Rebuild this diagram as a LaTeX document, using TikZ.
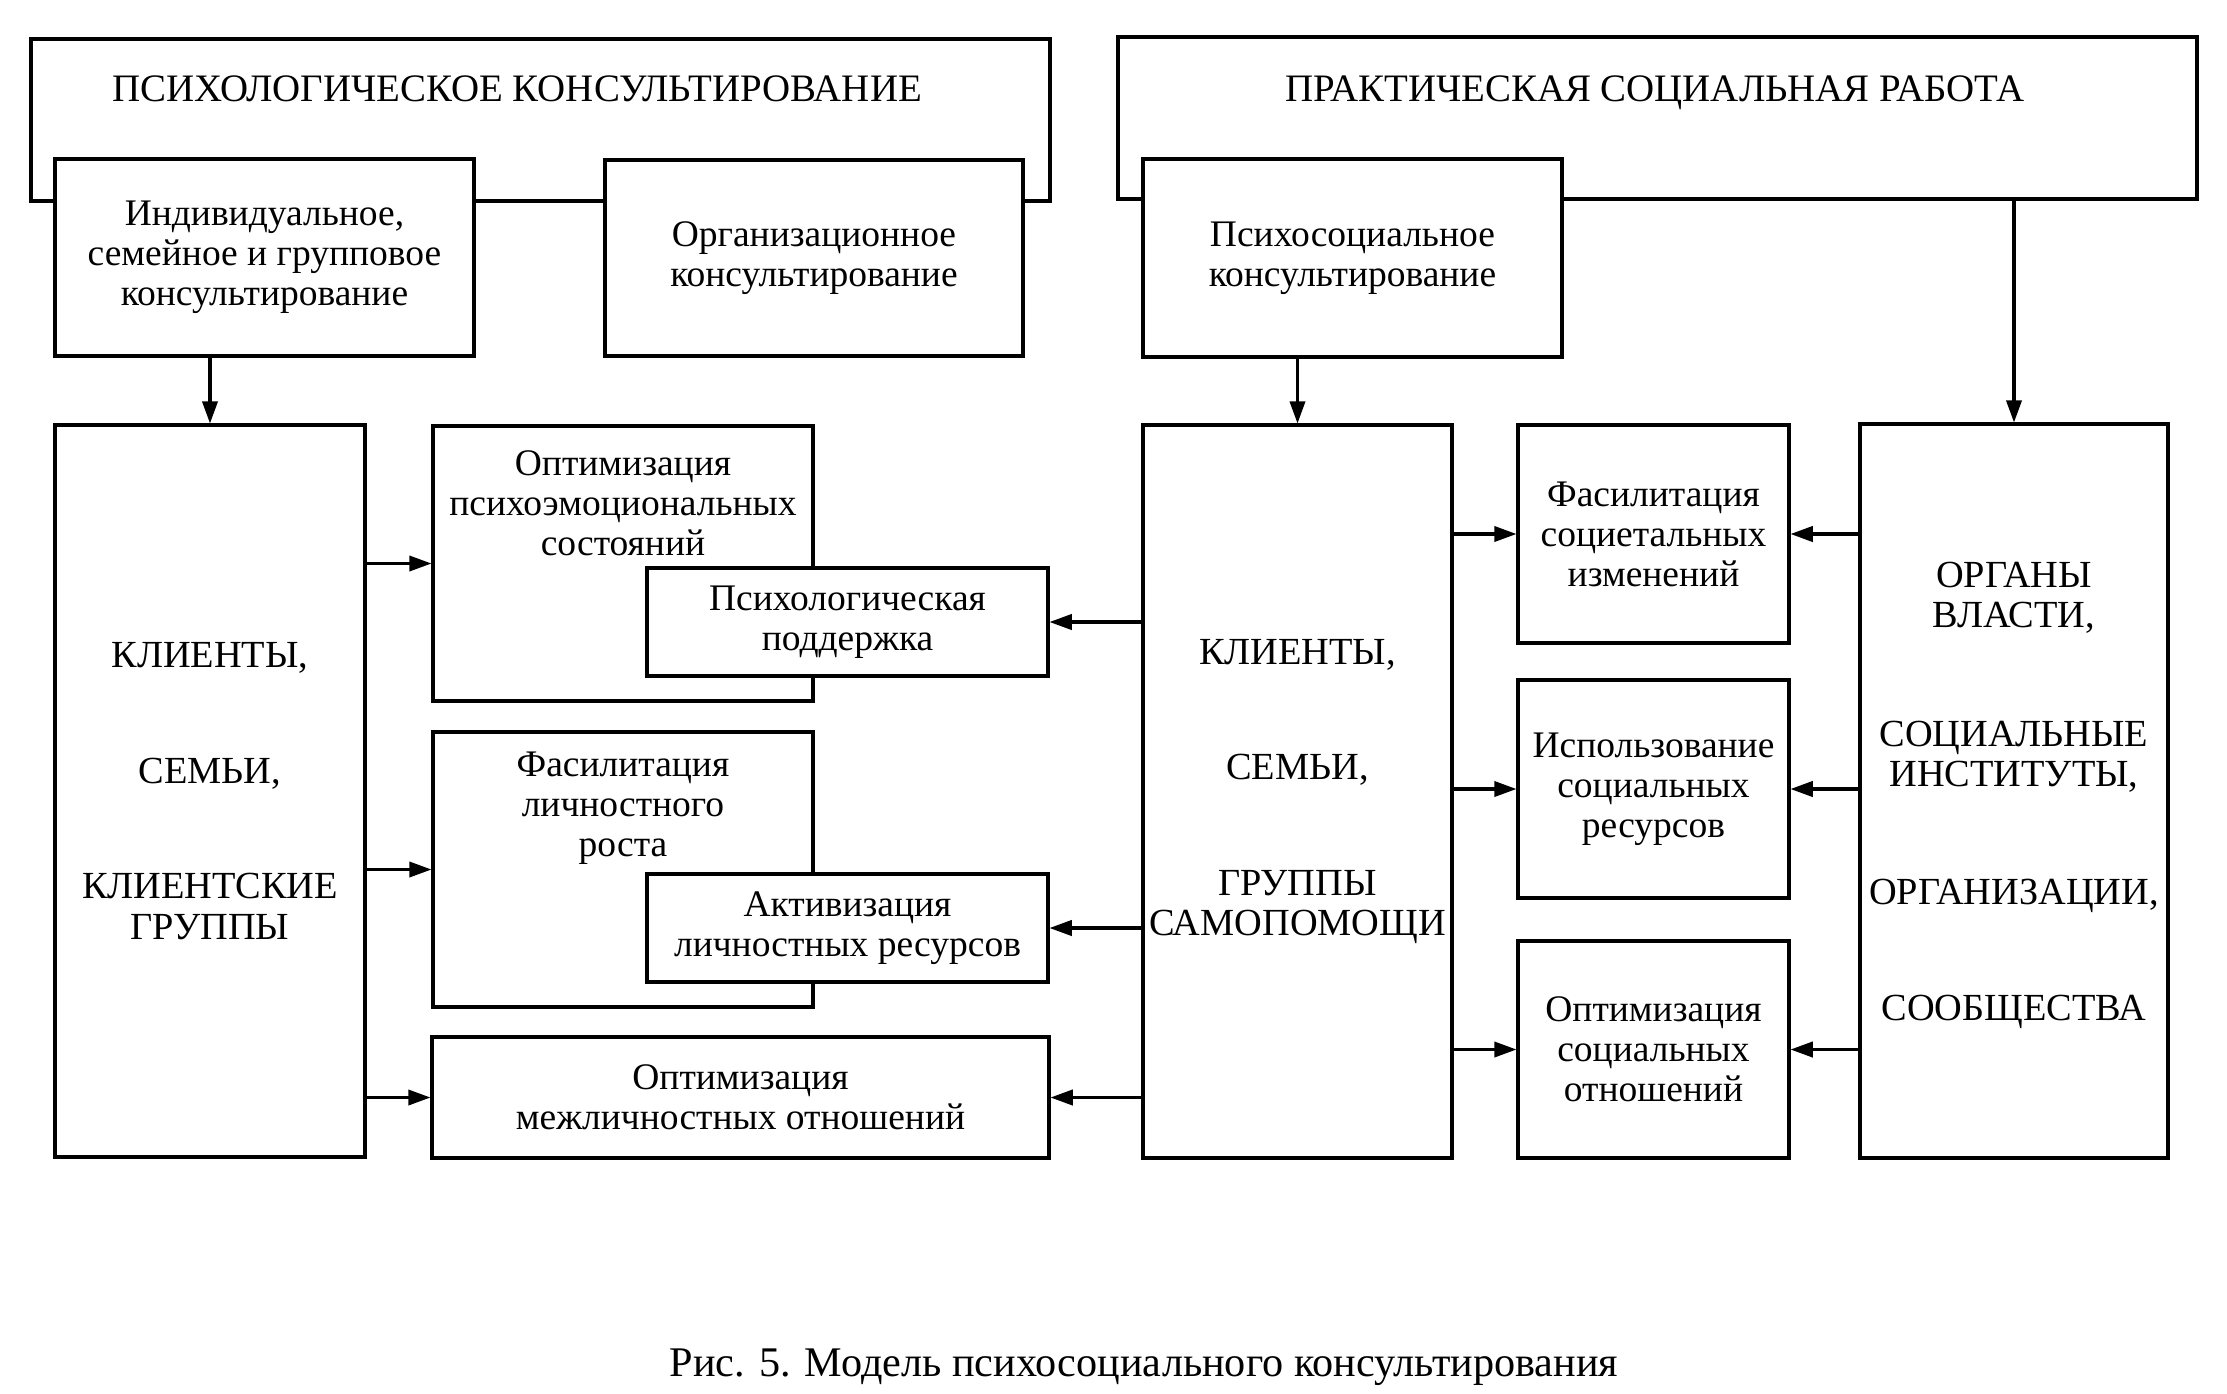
\documentclass[tikz,border=0pt]{standalone}
\usepackage{fontspec}
\setmainfont{Liberation Serif}
\usetikzlibrary{arrows.meta,fit}
\begin{document}
\begin{tikzpicture}[x=0.36pt,y=-0.36pt,
  box/.style={draw, line width=1.1pt, fill=white, inner sep=0pt},
  txt/.style={align=center, inner sep=0pt, font=\fontsize{13.5}{14.4}\selectfont},
  head/.style={txt, font=\fontsize{14}{15}\selectfont},
  caps/.style={txt, font=\fontsize{13.8}{14.6}\selectfont},
  arr/.style={line width=1.1pt, -{Triangle[length=8pt,width=5.5pt]}}]
\useasboundingbox (0,0) rectangle (2227,1393);
% top left
\node[box, fit={(31,39)(1050,201)}] (psyc) {};
\node[head] (psyctxt) at (517,89) {ПСИХОЛОГИЧЕСКОЕ КОНСУЛЬТИРОВАНИЕ};
\node[box, fit={(55,159)(474,356)}] (ind) {};
\node[txt] (indtxt) at (ind) {Индивидуальное,\\семейное и групповое\\консультирование};
\node[box, fit={(605,160)(1023,356)}] (org) {};
\node[txt] (orgtxt) at (org) {Организационное\\консультирование};
% top right
\node[box, fit={(1118,37)(2197,199)}] (prakt) {};
\node[head] (prakttxt) at (1655,93) {ПРАКТИЧЕСКАЯ СОЦИАЛЬНАЯ РАБОТА};
\node[box, fit={(1143,159)(1562,357)}] (psoc) {};
\node[txt] (psoctxt) at (psoc) {Психосоциальное\\консультирование};
% left column
\node[box, fit={(55,425)(365,1157)}] (kl1) {};
\node[caps] (kl1txt) at (kl1) {КЛИЕНТЫ,\\[27pt]СЕМЬИ,\\[27pt]КЛИЕНТСКИЕ\\ГРУППЫ};
\node[box, fit={(433,426)(813,701)}] (opt1) {};
\node[txt] (opt1txt) at (623,503) {Оптимизация\\психоэмоциональных\\состояний};
\node[box, fit={(647,568)(1048,676)}] (psup) {};
\node[txt] (psuptxt) at (psup) {Психологическая\\поддержка};
\node[box, fit={(433,732)(813,1007)}] (fac1) {};
\node[txt] (fac1txt) at (623,808) {Фасилитация\\личностного\\роста};
\node[box, fit={(647,874)(1048,982)}] (akt) {};
\node[txt] (akttxt) at (akt) {Активизация\\личностных ресурсов};
\node[box, fit={(432,1037)(1049,1158)}] (mezh) {};
\node[txt] (mezhtxt) at (mezh) {Оптимизация\\межличностных отношений};
% right part
\node[box, fit={(1143,425)(1452,1158)}] (kl2) {};
\node[caps] (kl2txt) at (kl2) {КЛИЕНТЫ,\\[27pt]СЕМЬИ,\\[27pt]ГРУППЫ\\САМОПОМОЩИ};
\node[box, fit={(1518,425)(1789,643)}] (facs) {};
\node[txt] (facstxt) at (facs) {Фасилитация\\социетальных\\изменений};
\node[box, fit={(1518,680)(1789,898)}] (isp) {};
\node[txt] (isptxt) at (isp) {Использование\\социальных\\ресурсов};
\node[box, fit={(1518,941)(1789,1158)}] (opts) {};
\node[txt] (optstxt) at (opts) {Оптимизация\\социальных\\отношений};
\node[box, fit={(1860,424)(2168,1158)}] (orgv) {};
\node[caps] (orgvtxt) at ([yshift=-1.5pt]orgv.center) {ОРГАНЫ\\ВЛАСТИ,\\[28pt]СОЦИАЛЬНЫЕ\\ИНСТИТУТЫ,\\[28pt]ОРГАНИЗАЦИИ,\\[27pt]СООБЩЕСТВА};
% arrows
\draw[arr] (kl1.north |- ind.south) -- (kl1.north);
\draw[arr] (kl2.north |- psoc.south) -- (kl2.north);
\draw[arr] (orgv.north |- prakt.south) -- (orgv.north);
\draw[arr] (kl1.east |- opt1.west) -- (opt1.west);
\draw[arr] (kl1.east |- fac1.west) -- (fac1.west);
\draw[arr] (kl1.east |- mezh.west) -- (mezh.west);
\draw[arr] (kl2.west |- psup.east) -- (psup.east);
\draw[arr] (kl2.west |- akt.east) -- (akt.east);
\draw[arr] (kl2.west |- mezh.east) -- (mezh.east);
\draw[arr] (kl2.east |- facs.west) -- (facs.west);
\draw[arr] (kl2.east |- isp.west) -- (isp.west);
\draw[arr] (kl2.east |- opts.west) -- (opts.west);
\draw[arr] (orgv.west |- facs.east) -- (facs.east);
\draw[arr] (orgv.west |- isp.east) -- (isp.east);
\draw[arr] (orgv.west |- opts.east) -- (opts.east);
% caption
\node[font=\fontsize{15.2}{16}\selectfont, inner sep=0pt] (cap) at (1144,1367) {Рис. 5. Модель психосоциального консультирования};
\end{tikzpicture}
\end{document}
